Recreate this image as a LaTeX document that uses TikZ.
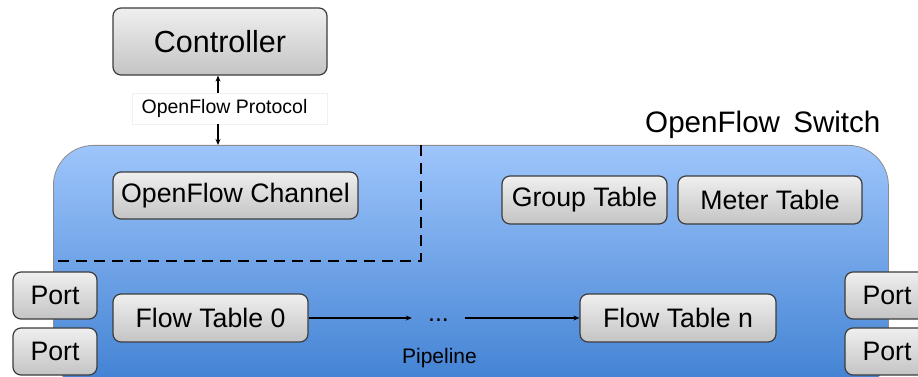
\documentclass[tikz,border=0pt]{standalone}
\usepackage{fontspec}
\setmainfont{Liberation Sans}
\usetikzlibrary{arrows.meta}
\definecolor{bluetop}{HTML}{9EC5FB}
\definecolor{bluemid}{HTML}{86B3F1}
\definecolor{bluebot}{HTML}{3F80D2}
\definecolor{graytop}{HTML}{EFEFEF}
\definecolor{graybot}{HTML}{C4C4C4}
\definecolor{boxline}{HTML}{3C3C3C}
\tikzset{
  graybox/.style={draw=boxline, line width=1.2pt, rounded corners=8pt,
    top color=graytop, bottom color=graybot, inner sep=0pt,
    font=\fontsize{26.7}{32}\selectfont},
  arr/.style={-{Stealth[length=6pt,width=5pt]}, line width=1.3pt},
  dashline/.style={line width=2.8pt, dash pattern=on 11pt off 7pt},
}
\begin{document}
\begin{tikzpicture}[x=1pt,y=-1pt]
\useasboundingbox (0,0) rectangle (918,377);
\clip (0,0) rectangle (918,377);
% switch body
\node[draw=black!45, line width=0.8pt, rounded corners=40pt, top color=bluetop, middle color=bluemid, bottom color=bluebot,
  minimum width=835pt, minimum height=245pt, inner sep=0pt, anchor=north west] (sw) at (53,145) {};
\node[anchor=base east, font=\fontsize{29.6}{34}\selectfont] (swlabel) at (884,132) {OpenFlow\,\ Switch};
% controller
\node[graybox, minimum width=214pt, minimum height=67pt, font=\fontsize{30.5}{36}\selectfont] (ctrl) at (220,41.5) {Controller};
\node[fill=white, draw=black!6, line width=0.5pt, minimum width=195pt, minimum height=31pt, inner sep=0pt,
  font=\fontsize{19.5}{23}\selectfont] (proto) at (229.5,108.5) {\hspace*{-10pt}OpenFlow Protocol};
\coordinate (ax) at (218,0);
\draw[arr] (proto.north -| ax) -- (ctrl.south -| ax);
\draw[arr] (proto.south -| ax) -- (sw.north -| ax);
% channel and dashed boundary
\node[graybox, minimum width=245pt, minimum height=47pt] (chan) at (235.5,195.5) {OpenFlow Channel};
\coordinate (d1) at (421,145);
\coordinate (d2) at (421,261);
\coordinate (d3) at (53,261);
\draw[dashline] (d1) -- (d2) -- (d3);
% tables
\node[graybox, minimum width=165pt, minimum height=48pt] (group) at (584.5,200) {Group Table};
\node[graybox, minimum width=184pt, minimum height=48pt] (meter) at (770,200) {Meter Table};
% ports
\node[graybox, minimum width=84pt, minimum height=47pt] (pl1) at (55,295.5) {Port};
\node[graybox, minimum width=84pt, minimum height=47pt] (pl2) at (55,351.5) {Port};
\node[graybox, minimum width=84pt, minimum height=47pt] (pr1) at (887,295.5) {Port};
\node[graybox, minimum width=84pt, minimum height=47pt] (pr2) at (887,351.5) {Port};
% pipeline
\node[graybox, minimum width=195pt, minimum height=48pt] (ft0) at (210.5,318) {Flow Table 0};
\node[graybox, minimum width=196pt, minimum height=48pt] (ftn) at (678,318) {Flow Table n};
\node[minimum width=53pt, minimum height=10pt, inner sep=0pt, font=\fontsize{25}{30}\selectfont] (dots) at (438.5,318) {\raisebox{-6pt}{...}};
\draw[arr] (ft0.east) -- (dots.west);
\draw[arr] (dots.east) -- (ftn.west);
\node[anchor=base, font=\fontsize{21}{25}\selectfont] (pipe) at (439.5,363) {Pipeline};
\end{tikzpicture}
\end{document}
